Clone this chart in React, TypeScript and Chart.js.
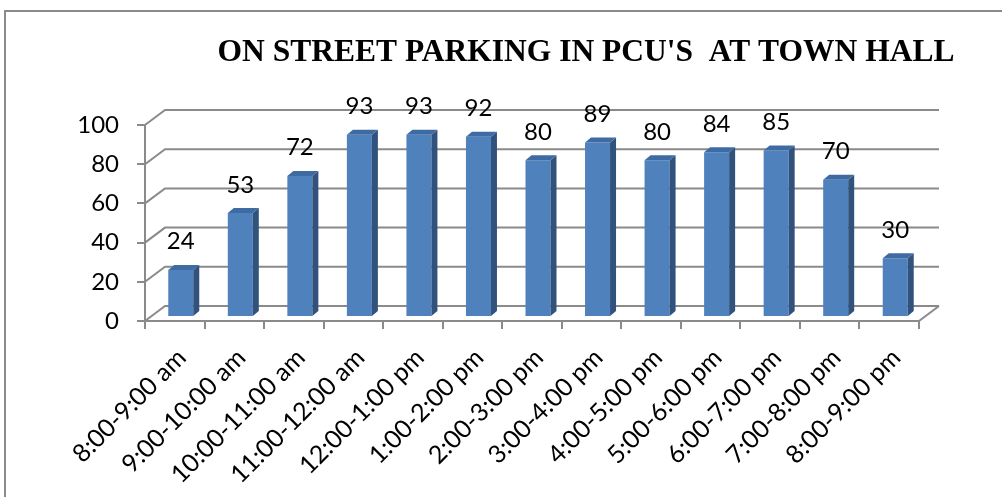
import React, { useEffect, useRef } from "react";
import { Chart, registerables } from "chart.js";

Chart.register(...registerables);

// ---- data ----
const categories = [
  "8:00-9:00 am",
  "9:00-10:00 am",
  "10:00-11:00 am",
  "11:00-12:00 am",
  "12:00-1:00 pm",
  "1:00-2:00 pm",
  "2:00-3:00 pm",
  "3:00-4:00 pm",
  "4:00-5:00 pm",
  "5:00-6:00 pm",
  "6:00-7:00 pm",
  "7:00-8:00 pm",
  "8:00-9:00 pm",
];
const pcuValues = [24, 53, 72, 93, 93, 92, 80, 89, 80, 84, 85, 70, 30];
const yMin = 0;
const yMax = 100;
const yStep = 20;
const chartTitle = "ON STREET PARKING IN PCU'S  AT TOWN HALL";

// ---- styling ----
const GRID = "#8a8a8a";
const FRONT = "#4F81BD";
const SIDE = "#31527D";
const TOP = "#3F6BA3";
const WALL_DX = 20;
const WALL_DY = -15;
const BAR_SHIFT_X = 6;
const BAR_SHIFT_Y = -4;
const BAR_DX = 6;
const BAR_DY = -5;
const FONT = "Lato";

const threeDPlugin = {
  id: "threeD",
  beforeDraw(chart: any) {
    const ctx = chart.ctx;
    ctx.save();
    ctx.fillStyle = "#fff";
    ctx.fillRect(0, 0, chart.width, chart.height);
    ctx.strokeStyle = GRID;
    ctx.lineWidth = 2;
    ctx.strokeRect(5, 11, chart.width + 40, chart.height + 40);

    ctx.fillStyle = "#000";
    ctx.font = `bold 31.5px "Liberation Serif"`;
    ctx.textAlign = "center";
    ctx.textBaseline = "alphabetic";
    ctx.fillText(chartTitle, 586, 61);

    const { left, right } = chart.chartArea;
    const ys = chart.scales.y;
    ctx.strokeStyle = GRID;
    ctx.lineWidth = 2;
    ys.ticks.forEach((t: any) => {
      const y = ys.getPixelForValue(t.value);
      ctx.beginPath();
      ctx.moveTo(left, y);
      ctx.lineTo(left + WALL_DX, y + WALL_DY);
      ctx.lineTo(right + WALL_DX, y + WALL_DY);
      ctx.stroke();
    });
    const y0 = ys.getPixelForValue(yMin);
    ctx.beginPath();
    ctx.moveTo(right, y0);
    ctx.lineTo(right + WALL_DX, y0 + WALL_DY);
    ctx.stroke();
    ctx.restore();
  },
  beforeDatasetsDraw(chart: any) {
    chart.ctx.save();
    chart.ctx.translate(BAR_SHIFT_X, BAR_SHIFT_Y);
  },
  afterDatasetsDraw(chart: any) {
    const ctx = chart.ctx;
    const meta = chart.getDatasetMeta(0);
    meta.data.forEach((bar: any) => {
      const { x, y, base, width } = bar.getProps(["x", "y", "base", "width"], true);
      const l = x - width / 2;
      const r = x + width / 2;
      ctx.fillStyle = SIDE;
      ctx.beginPath();
      ctx.moveTo(r, y);
      ctx.lineTo(r + BAR_DX, y + BAR_DY);
      ctx.lineTo(r + BAR_DX, base + BAR_DY);
      ctx.lineTo(r, base);
      ctx.closePath();
      ctx.fill();
      ctx.fillStyle = TOP;
      ctx.beginPath();
      ctx.moveTo(l, y);
      ctx.lineTo(l + BAR_DX, y + BAR_DY);
      ctx.lineTo(r + BAR_DX, y + BAR_DY);
      ctx.lineTo(r, y);
      ctx.closePath();
      ctx.fill();
    });
    ctx.restore();

    ctx.save();
    ctx.fillStyle = "#000";
    ctx.font = `24px ${FONT}`;
    ctx.textAlign = "center";
    ctx.textBaseline = "alphabetic";
    const data = chart.data.datasets[0].data;
    meta.data.forEach((bar: any, i: number) => {
      const { x, y } = bar.getProps(["x", "y"], true);
      ctx.fillText(String(data[i]), x + BAR_SHIFT_X, y + BAR_SHIFT_Y - 20.5);
    });
    ctx.restore();
  },
};

export default function App() {
  const canvasRef = useRef<HTMLCanvasElement | null>(null);

  useEffect(() => {
    const canvas = canvasRef.current;
    if (!canvas) return;
    const chart = new Chart(canvas, {
      type: "bar",
      data: {
        labels: categories,
        datasets: [
          {
            data: pcuValues,
            backgroundColor: FRONT,
            borderWidth: 0,
            categoryPercentage: 1,
            barPercentage: 0.42,
          },
        ],
      },
      options: {
        animation: false,
        responsive: false,
        devicePixelRatio: 1,
        layout: { padding: { left: 0, right: 83, top: 125, bottom: 0 } },
        plugins: {
          legend: { display: false },
          tooltip: { enabled: false },
          title: { display: false },
        },
        scales: {
          x: {
            offset: true,
            grid: {
              display: true,
              drawOnChartArea: false,
              drawTicks: true,
              tickLength: 8,
              color: GRID,
              lineWidth: 2,
              offset: true,
            },
            border: { display: true, color: GRID, width: 2 },
            ticks: {
              autoSkip: false,
              minRotation: 45,
              maxRotation: 45,
              labelOffset: 7,
              padding: 14,
              color: "#000",
              font: { family: FONT, size: 25 },
            },
            afterFit: (s: any) => {
              s.height = 497 - 321;
            },
          },
          y: {
            min: yMin,
            max: yMax,
            grid: {
              display: true,
              drawOnChartArea: false,
              drawTicks: true,
              tickLength: 8,
              color: GRID,
              lineWidth: 2,
            },
            border: { display: true, color: GRID, width: 2 },
            ticks: {
              stepSize: yStep,
              padding: 18,
              color: "#000",
              font: { family: FONT, size: 24 },
            },
            afterFit: (s: any) => {
              s.width = 145;
            },
          },
        },
      },
      plugins: [threeDPlugin],
    });
    return () => chart.destroy();
  }, []);

  return (
    <div style={{ position: "absolute", left: 0, top: 0, width: 1002, height: 497 }}>
      <canvas ref={canvasRef} width={1002} height={497} style={{ display: "block" }} />
    </div>
  );
}
